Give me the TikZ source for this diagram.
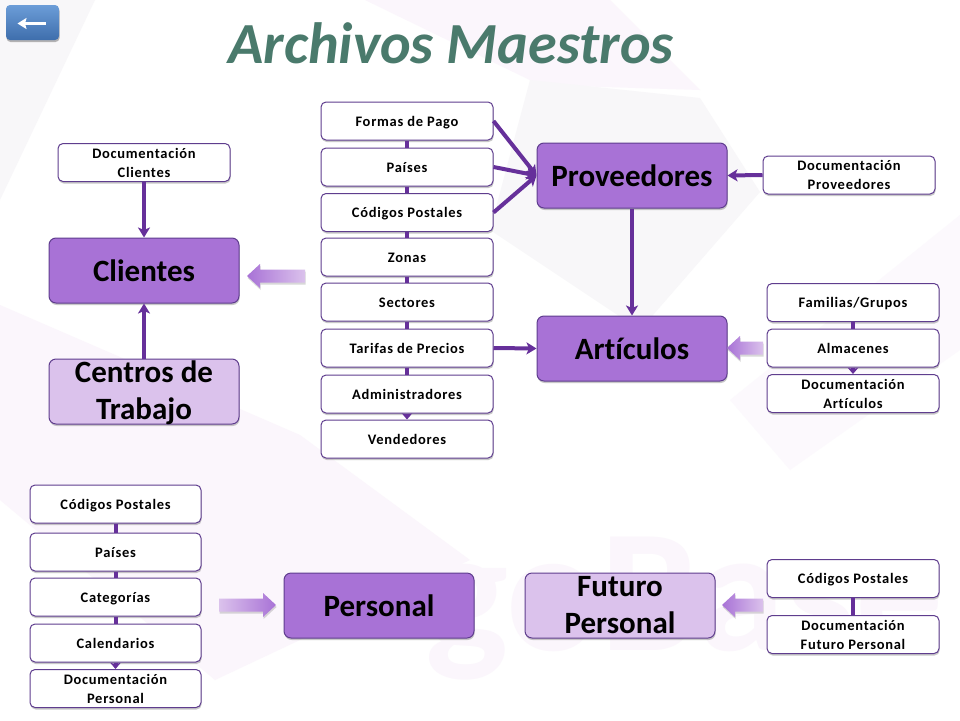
\documentclass[tikz,border=0pt]{standalone}
\usepackage{fontspec}
\setmainfont{Carlito}[Ligatures=NoCommon]
\newfontfamily\smallfnt{Carlito}[LetterSpace=5.0,Ligatures=NoCommon]
\usetikzlibrary{shadows,arrows.meta,calc}
\definecolor{conn}{HTML}{66309A}
\definecolor{edgec}{HTML}{5F3D8E}
\definecolor{darkfill}{HTML}{A872D6}
\definecolor{lightfill}{HTML}{DBC2EC}
\definecolor{titlec}{HTML}{4A7A6C}
\definecolor{wash}{HTML}{FBF6FC}
\definecolor{washr}{HTML}{FCF9FD}
\definecolor{washg}{HTML}{F8F7F9}
\definecolor{btntop}{HTML}{6C9DD8}
\definecolor{btnbot}{HTML}{3E6EAC}
\newcommand{\twolines}[2]{\raisebox{-16pt}{\smash{\begin{tabular}{@{}c@{}}#1\\#2\end{tabular}}}}
\tikzset{
  x=1pt,y=-1pt,
  boxbase/.style={draw=edgec,line width=1pt,inner sep=0pt,align=center,
    drop shadow={shadow xshift=0.6pt,shadow yshift=-2pt,opacity=0.3,fill=black!70}},
  smallbox/.style={boxbase,rounded corners=5pt,fill=white,minimum width=172pt,minimum height=38pt,
    font=\smallfnt\bfseries\fontsize{14.5}{19}\selectfont},
  onebox/.style={smallbox,text height=10pt,text depth=0pt},
  bigbox/.style={boxbase,rounded corners=7pt,minimum width=190pt,minimum height=65pt,
    font=\bfseries\fontsize{31}{37.5}\selectfont},
  darkbox/.style={bigbox,fill=darkfill},
  lightbox/.style={bigbox,fill=lightfill},
  link/.style={conn,line width=4pt},
  arrowlink/.style={link,-{Stealth[length=10pt,width=12pt,inset=2.5pt]}},
  shortarrow/.style={link,-{Stealth[length=6pt,width=10pt,inset=1pt]}},
  blockarrow/.style={draw=none,drop shadow={shadow xshift=0.6pt,shadow yshift=-2pt,opacity=0.25,fill=black!60}},
}
\newcommand{\blockleft}[3]{% tip, tail, y
  \path[blockarrow,left color=darkfill,right color=lightfill]
    (#1,#3) -- (#1+13,#3-12) -- (#1+13,#3-6.5) -- (#2,#3-6.5) -- (#2,#3+6.5) -- (#1+13,#3+6.5) -- (#1+13,#3+12) -- cycle;}
\newcommand{\blockright}[3]{% tail, tip, y
  \path[blockarrow,left color=lightfill,right color=darkfill]
    (#2,#3) -- (#2-13,#3-12) -- (#2-13,#3-6.5) -- (#1,#3-6.5) -- (#1,#3+6.5) -- (#2-13,#3+6.5) -- (#2-13,#3+12) -- cycle;}
\begin{document}
\begin{tikzpicture}
\useasboundingbox (0,0) rectangle (960,720);
\fill[white] (0,0) rectangle (960,720);
% faint background shapes
\fill[washg] (0,0) -- (95,0) -- (0,200) -- cycle;
\fill[wash] (365,0) -- (610,0) -- (700,90) -- (540,85) -- cycle;
\fill[washg] (530,80) -- (700,98) -- (760,192) -- (640,330) -- (490,230) -- cycle;
\fill[wash] (0,305) -- (300,435) -- (470,560) -- (215,680) -- (0,500) -- cycle;
\fill[washr] (730,400) -- (960,215) -- (960,350) -- (790,470) -- cycle;
\node[text=wash,font=\bfseries\fontsize{175}{175}\selectfont,anchor=base west,inner sep=0pt] (wm) at (425,650) {goBase};
% button
\node[draw=none,minimum width=53pt,minimum height=35pt,rounded corners=4pt,inner sep=0pt,
  top color=btntop,bottom color=btnbot,
  drop shadow={shadow xshift=0.5pt,shadow yshift=-2pt,opacity=0.4,fill=black!70}] (back) at (32.5,22.5) {};
\draw[white,line width=2.2pt,-{Stealth[length=9pt,width=11pt,inset=1.5pt]}] ($(back.center)+(13,1)$) -- ($(back.center)+(-15,1)$);
% title
\node[text=titlec,font=\bfseries\itshape\fontsize{58.2}{58}\selectfont,inner sep=0pt] (title) at (451,43) {Archivos Maestros};
% boxes
\node[onebox] (formas) at (407,121) {Formas de Pago};
\node[onebox] (paises) at (407,167) {Países};
\node[onebox] (cp) at (407,212.5) {Códigos Postales};
\node[onebox] (zonas) at (407,257) {Zonas};
\node[onebox] (sectores) at (407,302) {Sectores};
\node[onebox] (tarifas) at (407,348) {Tarifas de Precios};
\node[onebox] (admin) at (407,394) {Administradores};
\node[onebox] (vend) at (407,439) {Vendedores};
\node[darkbox] (prov) at (632,175.5) {Proveedores};
\node[darkbox] (art) at (632,348.5) {Artículos};
\node[smallbox] (docprov) at (849,175) {Documentación\\Proveedores};
\node[onebox] (fam) at (853,302.5) {Familias/Grupos};
\node[onebox] (alm) at (853,348) {Almacenes};
\node[smallbox] (docart) at (853,393.5) {Documentación\\Artículos};
\node[smallbox] (doccli) at (144,162.5) {Documentación\\Clientes};
\node[darkbox] (cli) at (144,270.5) {Clientes};
\node[lightbox] (centros) at (144,391.5) {\twolines{Centros de}{Trabajo}};
\node[onebox,minimum width=171pt] (cp2) at (115.5,504) {Códigos Postales};
\node[onebox,minimum width=171pt] (paises2) at (115.5,552) {Países};
\node[onebox,minimum width=171pt] (cat) at (115.5,597) {Categorías};
\node[onebox,minimum width=171pt] (cal) at (115.5,643) {Calendarios};
\node[smallbox,minimum width=171pt] (docper) at (115.5,688.5) {Documentación\\Personal};
\node[darkbox] (per) at (379,605.5) {Personal};
\node[lightbox] (fut) at (620,605.5) {\twolines{Futuro}{Personal}};
\node[onebox] (cp3) at (853,578.5) {Códigos Postales};
\node[smallbox] (docfut) at (853,634.5) {Documentación\\Futuro Personal};
% connectors
\draw[link] (formas.south) -- (paises.north);
\draw[link] (paises.south) -- (cp.north);
\draw[link] (cp.south) -- (zonas.north);
\draw[link] (zonas.south) -- (sectores.north);
\draw[link] (sectores.south) -- (tarifas.north);
\draw[link] (tarifas.south) -- (admin.north);
\draw[shortarrow] (admin.south) -- (vend.north);
\draw[arrowlink] (formas.east) -- (prov.west);
\draw[arrowlink] (paises.east) -- (prov.west);
\draw[arrowlink] (cp.east) -- (prov.west);
\draw[arrowlink] (tarifas.east) -- (art.west);
\draw[arrowlink] (docprov.west) -- (prov.east);
\draw[arrowlink] (prov.south) -- (art.north);
\draw[arrowlink] (doccli.south) -- (cli.north);
\draw[arrowlink] (centros.north) -- (cli.south);
\draw[link] (fam.south) -- (alm.north);
\draw[shortarrow] (alm.south) -- (docart.north);
\draw[link] (cp2.south) -- (paises2.north);
\draw[link] (paises2.south) -- (cat.north);
\draw[link] (cat.south) -- (cal.north);
\draw[shortarrow] (cal.south) -- (docper.north);
\draw[link] (cp3.south) -- (docfut.north);
% block arrows
\blockleft{247}{305}{276}
\blockleft{727}{763}{348}
\blockright{219}{276}{605}
\blockleft{722}{763}{605}
\end{tikzpicture}
\end{document}
